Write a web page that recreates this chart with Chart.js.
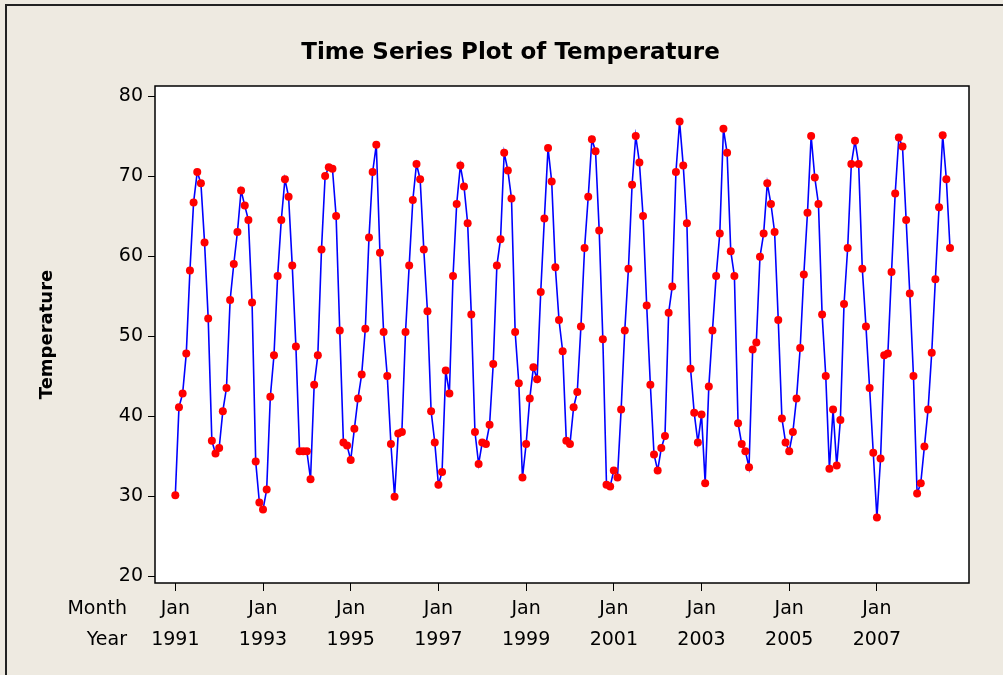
<!DOCTYPE html>
<html>
<head>
<meta charset="utf-8">
<script src="https://cdn.jsdelivr.net/npm/chart.js@4"></script>
<style>
  html, body { margin: 0; overflow: hidden; background: #eeeae1; }
  .edge { position: absolute; background: #222; }
  .edge.top { left: 5px; top: 4px; width: 998px; height: 2px; }
  .edge.left { left: 5px; top: 4px; width: 2px; height: 671px; }
  canvas { position: absolute; left: 0; top: 0; }
</style>
</head>
<body>
<div class="edge top"></div>
<div class="edge left"></div>
<canvas id="myChart" width="1003" height="675"></canvas>
<script>
// monthly temperature, Jan 1991 .. Sep 2008
const temp1991 = [30.1, 41.1, 42.8, 47.8, 58.2, 66.7, 70.5, 69.1, 61.7, 52.2, 36.9, 35.3];
const temp1992 = [36.0, 40.6, 43.5, 54.5, 59.0, 63.0, 68.2, 66.3, 64.5, 54.2, 34.3, 29.2];
const temp1993 = [28.3, 30.8, 42.4, 47.6, 57.5, 64.5, 69.6, 67.4, 58.8, 48.7, 35.6, 35.6];
const temp1994 = [35.6, 32.1, 43.9, 47.6, 60.8, 70.0, 71.1, 70.9, 65.0, 50.7, 36.7, 36.3];
const temp1995 = [34.5, 38.4, 42.2, 45.2, 50.9, 62.3, 70.5, 73.9, 60.4, 50.5, 45.0, 36.5];
const temp1996 = [29.9, 37.8, 38.0, 50.5, 58.8, 67.0, 71.5, 69.6, 60.8, 53.1, 40.6, 36.7];
const temp1997 = [31.4, 33.0, 45.7, 42.8, 57.5, 66.5, 71.3, 68.7, 64.1, 52.7, 38.0, 34.0];
const temp1998 = [36.7, 36.5, 38.9, 46.5, 58.8, 62.1, 72.9, 70.7, 67.2, 50.5, 44.1, 32.3];
const temp1999 = [36.5, 42.2, 46.1, 44.6, 55.5, 64.7, 73.5, 69.3, 58.6, 52.0, 48.1, 36.9];
const temp2000 = [36.5, 41.1, 43.0, 51.2, 61.0, 67.4, 74.6, 73.1, 63.2, 49.6, 31.4, 31.2];
const temp2001 = [33.2, 32.3, 40.8, 50.7, 58.4, 68.9, 75.0, 71.7, 65.0, 53.8, 43.9, 35.2];
const temp2002 = [33.2, 36.0, 37.5, 52.9, 56.2, 70.5, 76.8, 71.3, 64.1, 45.9, 40.4, 36.7];
const temp2003 = [40.2, 31.6, 43.7, 50.7, 57.5, 62.8, 75.9, 72.9, 60.6, 57.5, 39.1, 36.5];
const temp2004 = [35.6, 33.6, 48.3, 49.2, 59.9, 62.8, 69.1, 66.5, 63.0, 52.0, 39.7, 36.7];
const temp2005 = [35.6, 38.0, 42.2, 48.5, 57.7, 65.4, 75.0, 69.8, 66.5, 52.7, 45.0, 33.4];
const temp2006 = [40.8, 33.8, 39.5, 54.0, 61.0, 71.5, 74.4, 71.5, 58.4, 51.2, 43.5, 35.4];
const temp2007 = [27.3, 34.7, 47.6, 47.8, 58.0, 67.8, 74.8, 73.7, 64.5, 55.3, 45.0, 30.3];
const temp2008 = [31.6, 36.2, 40.8, 47.9, 57.1, 66.1, 75.1, 69.6, 61.0];

const temperature = [].concat(temp1991, temp1992, temp1993, temp1994, temp1995, temp1996,
  temp1997, temp1998, temp1999, temp2000, temp2001, temp2002, temp2003, temp2004,
  temp2005, temp2006, temp2007, temp2008);

// x ticks: month index from Jan 1991
const xTickPos = [0, 24, 48, 72, 96, 120, 144, 168, 192];
const xTickMonth = ['Jan', 'Jan', 'Jan', 'Jan', 'Jan', 'Jan', 'Jan', 'Jan', 'Jan'];
const xTickYear = ['1991', '1993', '1995', '1997', '1999', '2001', '2003', '2005', '2007'];
const xRowNames = ['Month', 'Year'];
const yTicks = [20, 30, 40, 50, 60, 70, 80];

const tickFont = { family: 'DejaVu Sans', size: 19, lineHeight: '31px' };

// white plot box with black border + the Month/Year row names
const plotBox = {
  id: 'plotBox',
  beforeDraw(chart) {
    const a = chart.chartArea;
    const ctx = chart.ctx;
    ctx.save();
    ctx.fillStyle = '#ffffff';
    ctx.fillRect(a.left, a.top, a.right - a.left, a.bottom - a.top);
    ctx.restore();
  },
  afterDraw(chart) {
    const a = chart.chartArea;
    const ctx = chart.ctx;
    ctx.save();
    ctx.strokeStyle = '#000000';
    ctx.lineWidth = 1.5;
    ctx.strokeRect(a.left, a.top, a.right - a.left, a.bottom - a.top);
    ctx.fillStyle = '#000000';
    ctx.font = '19px "DejaVu Sans"';
    ctx.textAlign = 'right';
    ctx.textBaseline = 'middle';
    const y0 = chart.scales.x.top + 8 + 3 + 15.5;
    xRowNames.forEach((name, i) => {
      ctx.fillText(name, 127, y0 + i * 31);
    });
    ctx.restore();
  }
};

const ctx = document.getElementById('myChart').getContext('2d');
const myChart = new Chart(ctx, {
  type: 'line',
  data: {
    datasets: [{
      label: 'Temperature',
      data: temperature.map((v, i) => ({ x: i, y: v })),
      borderColor: '#0000ff',
      borderWidth: 1.6,
      backgroundColor: '#ff0000',
      pointBackgroundColor: '#ff0000',
      pointBorderColor: '#ff0000',
      pointBorderWidth: 0,
      pointRadius: 4,
      tension: 0,
      fill: false
    }]
  },
  options: {
    responsive: false,
    animation: false,
    layout: { padding: { left: 36, right: 18, top: 0, bottom: 0 } },
    plugins: {
      legend: { display: false },
      tooltip: { enabled: false },
      title: {
        display: true,
        text: 'Time Series Plot of Temperature',
        color: '#000000',
        font: { family: 'DejaVu Sans', size: 23, weight: 'bold', lineHeight: 1.2 },
        padding: { top: 39, bottom: 19.4 }
      }
    },
    scales: {
      x: {
        type: 'linear',
        min: -5.56,
        max: 217.2,
        afterBuildTicks: scale => { scale.ticks = xTickPos.map(v => ({ value: v })); },
        afterFit: scale => { scale.height = 92; },
        border: { display: false },
        grid: { drawOnChartArea: false, drawTicks: true, tickLength: 8, color: '#000000', lineWidth: 1 },
        ticks: {
          autoSkip: false,
          maxRotation: 0,
          padding: 3,
          color: '#000000',
          font: tickFont,
          callback: value => {
            const k = xTickPos.indexOf(value);
            return k < 0 ? '' : [xTickMonth[k], xTickYear[k]];
          }
        }
      },
      y: {
        min: 19.125,
        max: 81.25,
        afterBuildTicks: scale => { scale.ticks = yTicks.map(v => ({ value: v })); },
        afterFit: scale => { scale.width = 119; },
        border: { display: false },
        grid: { drawOnChartArea: false, drawTicks: true, tickLength: 7, color: '#000000', lineWidth: 1 },
        ticks: { padding: 5, color: '#000000', font: { family: 'DejaVu Sans', size: 19 } },
        title: {
          display: true,
          text: 'Temperature',
          color: '#000000',
          font: { family: 'DejaVu Sans', size: 18, weight: 'bold', lineHeight: 1.2 },
          padding: { top: 1, bottom: 0 }
        }
      },
      y2: {
        position: 'right',
        min: 19.125,
        max: 81.25,
        afterFit: scale => { scale.width = 16; },
        border: { display: false },
        grid: { display: false },
        ticks: { display: false }
      }
    }
  },
  plugins: [plotBox]
});
</script>
</body>
</html>
